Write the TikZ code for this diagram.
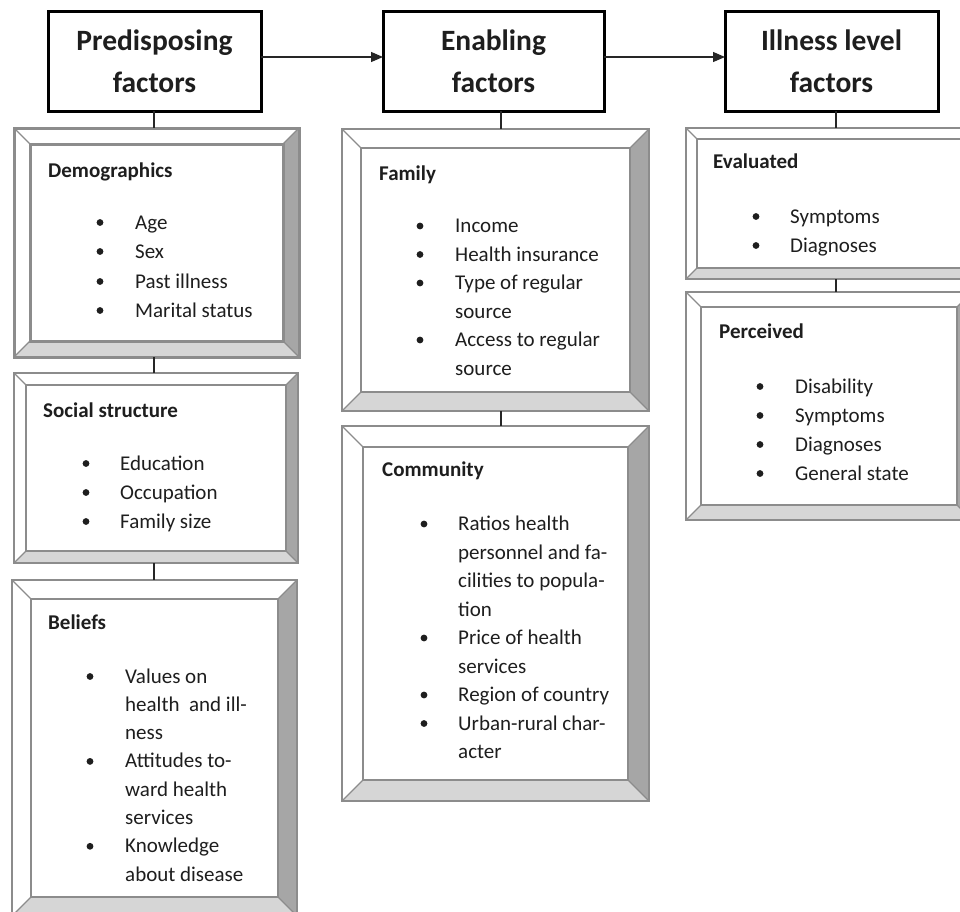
\documentclass[tikz,border=0pt]{standalone}
\usepackage{fontspec}
\setmainfont{Carlito}
\usetikzlibrary{arrows.meta}
\definecolor{bevline}{HTML}{8C8C8C}
\definecolor{bevright}{HTML}{A6A6A6}
\definecolor{bevbottom}{HTML}{D6D6D6}
\definecolor{txt}{HTML}{1E1E1E}
\tikzset{
  bevnode/.style={inner sep=0pt, outer sep=0pt},
  hdr/.style={draw=black, line width=3pt, inner sep=0pt, outer sep=0pt,
    minimum width=213pt, minimum height=100pt, align=center, text=txt,
    font=\bfseries\fontsize{29.5}{42}\selectfont},
  conn/.style={draw=black!85, line width=1.2pt},
  arr/.style={conn, -{Triangle[length=12pt,width=10pt]}},
  itxt/.style={anchor=base west, inner sep=0pt, text=txt, font=\fontsize{21}{24}\selectfont},
  ttl/.style={itxt, font=\bfseries\fontsize{21}{24}\selectfont}
}
\newcommand\bevbox[7]{%
  \node[bevnode, minimum width={(#4-#2)*1pt}, minimum height={(#5-#3)*1pt}] (#1) at ({(#2+#4)/2},{(#3+#5)/2}) {};
  \fill[white] (#1.north west) -- (#1.north east) -- ([shift={(-#6pt,-#6pt)}]#1.north east) -- ([shift={(#6pt,-#6pt)}]#1.north west) -- cycle;
  \fill[white] (#1.north west) -- (#1.south west) -- ([shift={(#6pt,#6pt)}]#1.south west) -- ([shift={(#6pt,-#6pt)}]#1.north west) -- cycle;
  \fill[bevright] (#1.north east) -- (#1.south east) -- ([shift={(-#6pt,#6pt)}]#1.south east) -- ([shift={(-#6pt,-#6pt)}]#1.north east) -- cycle;
  \fill[bevbottom] (#1.south west) -- (#1.south east) -- ([shift={(-#6pt,#6pt)}]#1.south east) -- ([shift={(#6pt,#6pt)}]#1.south west) -- cycle;
  \draw[bevline, line width=#7] (#1.north west) rectangle (#1.south east);
  \draw[bevline, line width=#7] ([shift={(#6pt,-#6pt)}]#1.north west) rectangle ([shift={(-#6pt,#6pt)}]#1.south east);
  \draw[bevline, line width=1.2pt] (#1.north west) -- ([shift={(#6pt,-#6pt)}]#1.north west)
    (#1.north east) -- ([shift={(-#6pt,-#6pt)}]#1.north east)
    (#1.south west) -- ([shift={(#6pt,#6pt)}]#1.south west)
    (#1.south east) -- ([shift={(-#6pt,#6pt)}]#1.south east);
}
\newcommand\itm[4]{\node[itxt] (#1) at (#2,#3) {#4};}
\newcommand\bul[2]{\fill[txt] (#1,{#2-6.5}) circle (3.4pt);}
\begin{document}
\begin{tikzpicture}[x=1pt,y=-1pt]
\useasboundingbox (0,0) rectangle (960,911);
\clip (0,0) rectangle (960,911);
\fill[white] (0,0) rectangle (960,911);

% headers
\node[hdr] (pre) at (154.5,61) {Predisposing\\factors};
\node[hdr, minimum width=221pt] (ena) at (493.5,61) {Enabling\\factors};
\node[hdr] (ill) at (831.5,61) {Illness level\\factors};
\draw[arr] ([yshift=4pt]pre.east) -- ([yshift=4pt]ena.west);
\draw[arr] ([yshift=4pt]ena.east) -- ([yshift=4pt]ill.west);

% bevel boxes
\bevbox{dem}{14}{128}{299}{357}{16}{3pt}
\bevbox{soc}{14}{373}{298}{563}{12}{1.6pt}
\bevbox{bel}{12}{580}{297}{916}{19}{1.6pt}
\bevbox{fam}{342}{129}{649}{411}{19}{1.6pt}
\bevbox{com}{342}{426}{649}{801}{21}{1.6pt}
\bevbox{eva}{686}{128}{972}{279}{11}{1.6pt}
\bevbox{per}{686}{292}{972}{520}{15}{1.6pt}

% column coordinates
\coordinate (pcol) at (154,0);
\coordinate (ecol) at (501,0);
\coordinate (icol) at (836,0);
\draw[conn] (pcol |- pre.south) -- (pcol |- dem.north);
\draw[conn] (pcol |- dem.south) -- (pcol |- soc.north);
\draw[conn] (pcol |- soc.south) -- (pcol |- bel.north);
\draw[conn] (ecol |- ena.south) -- (ecol |- fam.north);
\draw[conn] (ecol |- fam.south) -- (ecol |- com.north);
\draw[conn] (icol |- ill.south) -- (icol |- eva.north);
\draw[conn] (icol |- eva.south) -- (icol |- per.north);

% Demographics
\node[ttl] (demt) at (48,177) {Demographics};
\bul{100}{229}\itm{d1}{135}{229}{Age}
\bul{100}{258}\itm{d2}{135}{258}{Sex}
\bul{100}{288}\itm{d3}{135}{288}{Past illness}
\bul{100}{317}\itm{d4}{135}{317}{Marital status}

% Social structure
\node[ttl] (soct) at (43,417) {Social structure};
\bul{86}{470}\itm{s1}{120}{470}{Education}
\bul{86}{499}\itm{s2}{120}{499}{Occupation}
\bul{86}{528}\itm{s3}{120}{528}{Family size}

% Beliefs
\node[ttl] (belt) at (48,629) {Beliefs};
\bul{90}{683}\itm{b1}{125}{683}{Values on}
\itm{b2}{125}{711.3}{health \ and ill-}
\itm{b3}{125}{739.6}{ness}
\bul{90}{767.9}\itm{b4}{125}{767.9}{Attitudes to-}
\itm{b5}{125}{796.2}{ward health}
\itm{b6}{125}{824.5}{services}
\bul{90}{852.8}\itm{b7}{125}{852.8}{Knowledge}
\itm{b8}{125}{881.1}{about disease}

% Family
\node[ttl] (famt) at (379,180) {Family};
\bul{420}{232.5}\itm{f1}{455}{232.5}{Income}
\bul{420}{261}\itm{f2}{455}{261}{Health insurance}
\bul{420}{289.5}\itm{f3}{455}{289.5}{Type of regular}
\itm{f4}{455}{318}{source}
\bul{420}{346.5}\itm{f5}{455}{346.5}{Access to regular}
\itm{f6}{455}{375}{source}

% Community
\node[ttl] (comt) at (382,476.5) {Community};
\bul{424}{530.5}\itm{c1}{458}{530.5}{Ratios health}
\itm{c2}{458}{559}{personnel and fa-}
\itm{c3}{458}{587.5}{cilities to popula-}
\itm{c4}{458}{616}{tion}
\bul{424}{644.5}\itm{c5}{458}{644.5}{Price of health}
\itm{c6}{458}{673}{services}
\bul{424}{701.5}\itm{c7}{458}{701.5}{Region of country}
\bul{424}{730}\itm{c8}{458}{730}{Urban-rural char-}
\itm{c9}{458}{758.5}{acter}

% Evaluated
\node[ttl] (evat) at (713,168) {Evaluated};
\bul{756}{223}\itm{e1}{790}{223}{Symptoms}
\bul{756}{252}\itm{e2}{790}{252}{Diagnoses}

% Perceived
\node[ttl] (pert) at (719,338) {Perceived};
\bul{760}{393}\itm{p1}{795}{393}{Disability}
\bul{760}{422}\itm{p2}{795}{422}{Symptoms}
\bul{760}{451}\itm{p3}{795}{451}{Diagnoses}
\bul{760}{480}\itm{p4}{795}{480}{General state}
\end{tikzpicture}
\end{document}
